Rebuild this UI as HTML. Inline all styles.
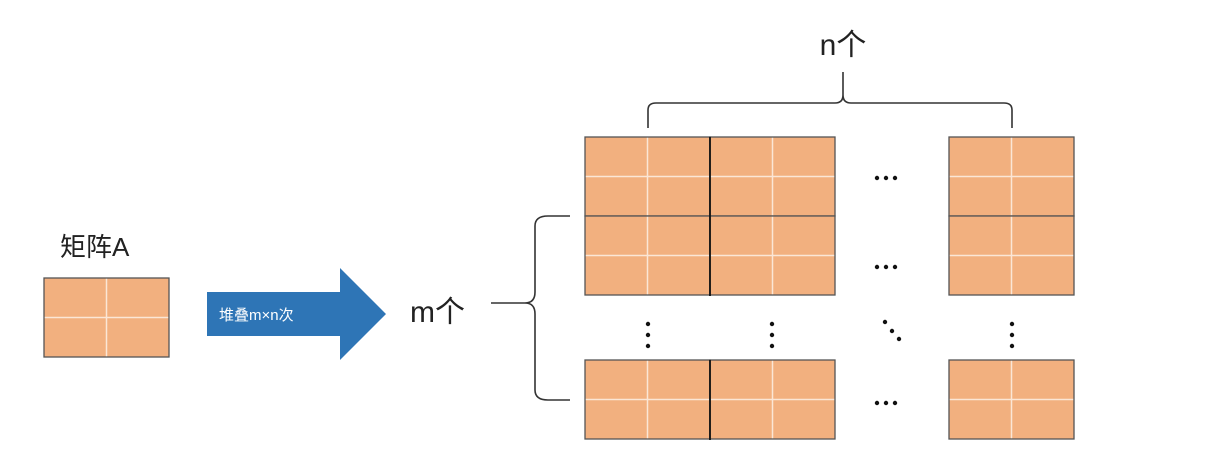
<!DOCTYPE html>
<html><head><meta charset="utf-8"><style>
html,body{margin:0;padding:0;background:#fff;}
svg{display:block;}
text{font-family:"Liberation Sans","Noto Sans CJK SC",sans-serif;}
</style></head><body>
<svg width="1211" height="460" viewBox="0 0 1211 460" xmlns="http://www.w3.org/2000/svg">
<defs>
<g id="t">
<rect x="0" y="0" width="125" height="79" fill="#f2b07f"/>
<line x1="62.5" y1="0" x2="62.5" y2="79" stroke="#fbe6d6" stroke-width="1.5"/>
<line x1="0" y1="39.5" x2="125" y2="39.5" stroke="#fbe6d6" stroke-width="1.5"/>
<rect x="0" y="0" width="125" height="79" fill="none" stroke="#555" stroke-width="1.3"/>
</g>
</defs>
<text x="60" y="256" font-size="26" fill="#222">矩阵A</text>
<use href="#t" transform="translate(44,278)"/>
<polygon points="207,292 340,292 340,268 386,314 340,360 340,336 207,336" fill="#2e75b6"/>
<text x="219" y="320" font-size="15" fill="#fff">堆叠m×n次</text>
<text x="410" y="322" font-size="30" fill="#222">m个</text>
<path d="M491,303 L525,303 Q535,303 535,292 L535,226 Q535,216 548,216 L570,216 M525,303 Q535,303 535,314 L535,390 Q535,400 548,400 L570,400" fill="none" stroke="#333" stroke-width="1.6"/>
<text x="843" y="55" font-size="30" fill="#222" text-anchor="middle">n个</text>
<path d="M648,128 L648,110 Q648,103 656,103 L835,103 Q843,103 843,95 L843,72 M843,95 Q843,103 851,103 L1004,103 Q1012,103 1012,110 L1012,128" fill="none" stroke="#333" stroke-width="1.6"/>
<use href="#t" transform="translate(585,137)"/>
<use href="#t" transform="translate(710,137)"/>
<use href="#t" transform="translate(949,137)"/>
<use href="#t" transform="translate(585,216)"/>
<use href="#t" transform="translate(710,216)"/>
<use href="#t" transform="translate(949,216)"/>
<use href="#t" transform="translate(585,360)"/>
<use href="#t" transform="translate(710,360)"/>
<use href="#t" transform="translate(949,360)"/>
<line x1="710" y1="137" x2="710" y2="296" stroke="#111" stroke-width="1.8"/>
<line x1="710" y1="360" x2="710" y2="440" stroke="#111" stroke-width="1.8"/>
<g fill="#111">
<circle cx="877" cy="178" r="2.2"/><circle cx="886" cy="178" r="2.2"/><circle cx="895" cy="178" r="2.2"/>
<circle cx="877" cy="267" r="2.2"/><circle cx="886" cy="267" r="2.2"/><circle cx="895" cy="267" r="2.2"/>
<circle cx="877" cy="403" r="2.2"/><circle cx="886" cy="403" r="2.2"/><circle cx="895" cy="403" r="2.2"/>
<circle cx="648" cy="324" r="2.2"/><circle cx="648" cy="335" r="2.2"/><circle cx="648" cy="346" r="2.2"/>
<circle cx="772" cy="324" r="2.2"/><circle cx="772" cy="335" r="2.2"/><circle cx="772" cy="346" r="2.2"/>
<circle cx="1012" cy="324" r="2.2"/><circle cx="1012" cy="335" r="2.2"/><circle cx="1012" cy="346" r="2.2"/>
<circle cx="885" cy="322" r="2.2"/><circle cx="892" cy="331" r="2.2"/><circle cx="899" cy="339" r="2.2"/>
</g>
</svg>
</body></html>
